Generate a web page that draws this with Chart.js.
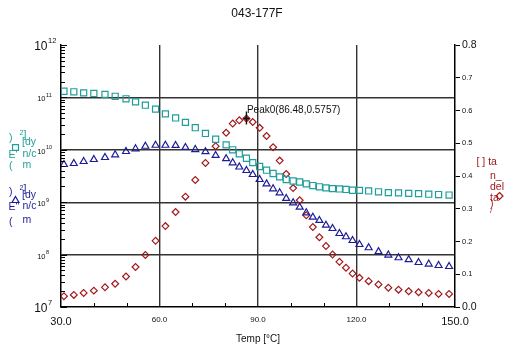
<!DOCTYPE html>
<html>
<head>
<meta charset="utf-8">
<script src="https://cdn.jsdelivr.net/npm/chart.js@4.4.0/dist/chart.umd.min.js"></script>
<style>
  html, body { margin: 0; padding: 0; background: #fff; }
  #wrap { width: 511px; height: 351px; position: relative; }
</style>
</head>
<body>
<div id="wrap"><canvas id="c" width="511" height="351"></canvas></div>
<script>
// Temperature sweep (°C)
const temperature = [30.9, 33.9, 36.9, 40.0, 43.4, 46.5, 49.8, 52.7, 55.7, 58.8,
  61.8, 64.9, 67.9, 70.9, 74.0, 77.1, 80.3, 82.3, 84.3, 86.48,
  88.4, 90.5, 92.6, 94.6, 96.6, 98.6, 100.7, 102.7, 104.7, 106.7,
  108.7, 110.7, 112.7, 114.8, 116.8, 118.8, 120.9, 123.7, 126.7, 129.7,
  132.8, 135.9, 138.9, 142.0, 145.0, 148.2];

// Storage modulus E' (dyn/cm²)
const storageModulus = [1.31e11, 1.28e11, 1.22e11, 1.19e11, 1.14e11, 1.05e11, 9.4e10, 8.2e10, 7.1e10, 5.96e10,
  4.86e10, 4.05e10, 3.33e10, 2.64e10, 2.05e10, 1.59e10, 1.24e10, 1.00e10, 8.4e9, 6.9e9,
  5.7e9, 4.8e9, 4.08e9, 3.53e9, 3.05e9, 2.71e9, 2.54e9, 2.43e9, 2.24e9, 2.08e9,
  1.97e9, 1.88e9, 1.82e9, 1.79e9, 1.75e9, 1.69e9, 1.68e9, 1.64e9, 1.58e9, 1.52e9,
  1.51e9, 1.47e9, 1.46e9, 1.42e9, 1.40e9, 1.37e9];

// Loss modulus E'' (dyn/cm²)
const lossModulus = [5.24e9, 5.48e9, 5.98e9, 6.53e9, 7.13e9, 8.03e9, 9.29e9, 1.045e10, 1.17e10, 1.22e10,
  1.22e10, 1.21e10, 1.11e10, 1.01e10, 9.2e9, 7.8e9, 6.76e9, 5.65e9, 4.7e9, 4.03e9,
  3.38e9, 2.71e9, 2.24e9, 1.80e9, 1.51e9, 1.18e9, 9.75e8, 8.03e8, 6.28e8, 5.17e8,
  4.48e8, 3.64e8, 3.15e8, 2.53e8, 2.19e8, 1.86e8, 1.56e8, 1.35e8, 1.14e8, 9.8e7,
  8.7e7, 8.0e7, 7.07e7, 6.6e7, 6.2e7, 5.93e7];

// Loss tangent tan δ
const tanDelta = [0.033, 0.037, 0.043, 0.050, 0.060, 0.071, 0.093, 0.122, 0.159, 0.202,
  0.247, 0.290, 0.337, 0.388, 0.440, 0.491, 0.532, 0.560, 0.570, 0.5757,
  0.565, 0.547, 0.522, 0.488, 0.447, 0.406, 0.363, 0.326, 0.280, 0.244,
  0.213, 0.186, 0.160, 0.138, 0.120, 0.102, 0.089, 0.079, 0.069, 0.059,
  0.053, 0.048, 0.045, 0.043, 0.040, 0.040];

// Axis tick values
const xLabelTemps = [30, 60, 90, 120, 150];
const xGridTemps = [60, 90, 120];
const decadeExponents = [7, 8, 9, 10, 11, 12];

const FONT = "'Liberation Sans', Arial, Helvetica, sans-serif";
const TEAL = '#1f9e9a';
const NAVY = '#1c1c98';
const MAROON = '#a3181b';
const GRID = '#333333';

function points(values) {
  return temperature.map((t, i) => ({ x: t, y: values[i] }));
}

function isDecade(v) {
  const l = Math.log10(v);
  return Math.abs(l - Math.round(l)) < 1e-6;
}

// Outline markers used in the axis captions
function marker(ctx, style, x, y, r, color) {
  ctx.save();
  ctx.strokeStyle = color;
  ctx.lineWidth = 1.2;
  ctx.beginPath();
  if (style === 'rect') {
    const s = r * Math.SQRT1_2;
    ctx.rect(x - s, y - s, 2 * s, 2 * s);
  } else if (style === 'triangle') {
    for (let k = 0; k < 3; k++) {
      const a = k * 2 * Math.PI / 3;
      const px = x + Math.sin(a) * r, py = y - Math.cos(a) * r;
      k ? ctx.lineTo(px, py) : ctx.moveTo(px, py);
    }
    ctx.closePath();
  } else {
    ctx.moveTo(x, y - r); ctx.lineTo(x + r, y); ctx.lineTo(x, y + r); ctx.lineTo(x - r, y);
    ctx.closePath();
  }
  ctx.stroke();
  ctx.restore();
}

function text(ctx, str, x, y, size, color, align) {
  ctx.font = `${size}px ${FONT}`;
  ctx.fillStyle = color;
  ctx.textAlign = align || 'left';
  ctx.textBaseline = 'middle';
  ctx.fillText(str, x, y);
}

const decorations = {
  id: 'decorations',
  afterDraw(chart) {
    const { ctx, chartArea: a, scales } = chart;
    const xs = scales.x, ys = scales.y, yt = scales.y1;
    ctx.save();

    // Title
    text(ctx, '043-177F', 257, 14, 12, '#111', 'center');

    // Inner minor ticks on the left (log) axis and the bottom axis
    ctx.strokeStyle = '#000';
    ctx.lineWidth = 1;
    ctx.beginPath();
    for (let e = 7; e <= 12; e++) {
      for (let k = 1; k <= 9; k++) {
        if (e === 12 && k > 1) break;
        const y = Math.round(ys.getPixelForValue(k * Math.pow(10, e))) + 0.5;
        const len = k === 1 ? 6 : 4;
        ctx.moveTo(a.left, y);
        ctx.lineTo(a.left + len, y);
      }
    }
    for (let t = 40; t < 150; t += 10) {
      if (xGridTemps.includes(t)) continue;
      const x = Math.round(xs.getPixelForValue(t)) + 0.5;
      ctx.moveTo(x, a.bottom);
      ctx.lineTo(x, a.bottom - 4);
    }
    ctx.stroke();

    // Decade labels 10^n on the left axis
    decadeExponents.forEach(e => {
      const y = ys.getPixelForValue(Math.pow(10, e));
      const big = e === decadeExponents[0] || e === decadeExponents[decadeExponents.length - 1];
      const right = big ? 47.5 : 45.5;
      text(ctx, '10', right, y + (big ? 1.5 : 2), big ? 12 : 7.5, '#111', 'right');
      text(ctx, String(e), right + 0.5, y - (big ? 4 : 2), big ? 7.5 : 5.5, '#111', 'left');
    });

    // Left axis caption, E' block
    text(ctx, ')', 9, 138, 10.5, TEAL);
    text(ctx, '2', 19.5, 133.5, 7, TEAL);
    text(ctx, ']', 23.5, 135, 10.5, TEAL);
    text(ctx, '[dy', 22, 142.5, 10.5, TEAL);
    marker(ctx, 'rect', 15.5, 147.5, 4.2, TEAL);
    text(ctx, "E'", 8.5, 155, 10.5, TEAL);
    text(ctx, 'n/c', 22.5, 154, 10.5, TEAL);
    text(ctx, '(', 9, 166, 10.5, TEAL);
    text(ctx, 'm', 22.5, 165.5, 10.5, TEAL);

    // Left axis caption, E'' block
    text(ctx, ')', 9, 192.5, 10.5, NAVY);
    text(ctx, '2', 19.5, 188, 7, NAVY);
    text(ctx, ']', 23.5, 189.5, 10.5, NAVY);
    text(ctx, '[dy', 22, 195, 10.5, NAVY);
    marker(ctx, 'triangle', 15.5, 200.5, 4, NAVY);
    text(ctx, "E''", 8.5, 207, 10.5, NAVY);
    text(ctx, 'n/c', 22.5, 206.5, 10.5, NAVY);
    text(ctx, '(', 9, 222, 10.5, NAVY);
    text(ctx, 'm', 22.5, 220, 10.5, NAVY);

    // Right axis caption, tan delta block
    text(ctx, '[ ] ta', 476.5, 162, 10.5, MAROON);
    text(ctx, 'n_', 490, 176.5, 10.5, MAROON);
    text(ctx, 'del', 490, 187, 10.5, MAROON);
    text(ctx, 'ta', 490, 198, 10.5, MAROON);
    marker(ctx, 'diamond', 499.5, 196, 3.5, MAROON);
    text(ctx, ')', 490, 204.5, 10.5, MAROON);
    text(ctx, '/', 490, 211, 8, MAROON);

    // Peak marker on the tan delta curve
    let pi = 0;
    tanDelta.forEach((v, i) => { if (v > tanDelta[pi]) pi = i; });
    const px = xs.getPixelForValue(temperature[pi]);
    const py = yt.getPixelForValue(tanDelta[pi]);
    ctx.strokeStyle = '#111';
    ctx.lineWidth = 1.4;
    ctx.beginPath();
    ctx.moveTo(px, py - 7); ctx.lineTo(px, py + 6);
    ctx.moveTo(px - 3, py); ctx.lineTo(px + 3, py);
    ctx.stroke();
    ctx.fillStyle = '#111';
    ctx.beginPath(); ctx.arc(px, py, 1.6, 0, Math.PI * 2); ctx.fill();
    text(ctx, `Peak0(${temperature[pi]},${tanDelta[pi]})`, px + 0.5, py - 8, 10, '#111', 'left');

    ctx.restore();
  }
};

new Chart(document.getElementById('c'), {
  type: 'scatter',
  data: {
    datasets: [
      {
        label: "E'",
        data: points(storageModulus),
        yAxisID: 'y',
        pointStyle: 'rect',
        pointRadius: 4.3,
        borderColor: TEAL,
        backgroundColor: 'rgba(0,0,0,0)',
        borderWidth: 1.2,
        showLine: false
      },
      {
        label: "E''",
        data: points(lossModulus),
        yAxisID: 'y',
        pointStyle: 'triangle',
        pointRadius: 4,
        borderColor: NAVY,
        backgroundColor: 'rgba(0,0,0,0)',
        borderWidth: 1.2,
        showLine: false
      },
      {
        label: 'tan delta',
        data: points(tanDelta),
        yAxisID: 'y1',
        pointStyle: 'rectRot',
        pointRadius: 3.4,
        borderColor: MAROON,
        backgroundColor: 'rgba(0,0,0,0)',
        borderWidth: 1.2,
        showLine: false
      }
    ]
  },
  options: {
    responsive: false,
    devicePixelRatio: 1,
    animation: false,
    layout: { padding: { top: 45, left: 0, right: 0, bottom: 0 } },
    plugins: {
      legend: { display: false },
      tooltip: { enabled: false },
      title: { display: false }
    },
    scales: {
      x: {
        type: 'linear',
        position: 'bottom',
        min: 30,
        max: 150,
        ticks: {
          stepSize: 10,
          autoSkip: false,
          maxRotation: 0,
          padding: 8,
          color: '#111',
          font: (c) => {
            const v = c.tick ? c.tick.value : 0;
            return { family: FONT, size: (v === 30 || v === 150) ? 11 : 8 };
          },
          callback: (v) => xLabelTemps.includes(v) ? v.toFixed(1) : ''
        },
        grid: {
          drawTicks: false,
          lineWidth: 1.4,
          color: (c) => (c.tick && xGridTemps.includes(c.tick.value)) ? GRID : 'rgba(0,0,0,0)'
        },
        border: { display: true, color: '#000', width: 1.5 },
        title: {
          display: true,
          text: 'Temp [°C]',
          color: '#111',
          font: { family: FONT, size: 10 },
          padding: { top: 4, bottom: 6 }
        },
        afterFit: (s) => { s.height = 44; }
      },
      y: {
        type: 'logarithmic',
        position: 'left',
        min: 1e7,
        max: 1e12,
        afterBuildTicks: (s) => {
          s.ticks = decadeExponents.map(e => ({ value: Math.pow(10, e), major: true }));
        },
        ticks: { display: false },
        grid: {
          drawTicks: false,
          lineWidth: 1.4,
          color: (c) => {
            const v = c.tick ? c.tick.value : 0;
            return (v > 1e7 && v < 1e12 && isDecade(v)) ? GRID : 'rgba(0,0,0,0)';
          }
        },
        border: { display: true, color: '#000', width: 1.5 },
        afterFit: (s) => { s.width = 61; }
      },
      y1: {
        type: 'linear',
        position: 'right',
        min: 0,
        max: 0.8,
        ticks: {
          stepSize: 0.1,
          padding: 2,
          color: '#111',
          font: (c) => {
            const v = c.tick ? c.tick.value : 0.4;
            return { family: FONT, size: (v < 0.01 || v > 0.79) ? 10.5 : 7.5 };
          },
          callback: (v) => Number(v).toFixed(1)
        },
        grid: {
          drawOnChartArea: false,
          drawTicks: true,
          tickLength: 5,
          color: '#000',
          lineWidth: 1
        },
        border: { display: true, color: '#000', width: 1.5 },
        afterFit: (s) => { s.width = 56; }
      }
    }
  },
  plugins: [decorations]
});
</script>
</body>
</html>
